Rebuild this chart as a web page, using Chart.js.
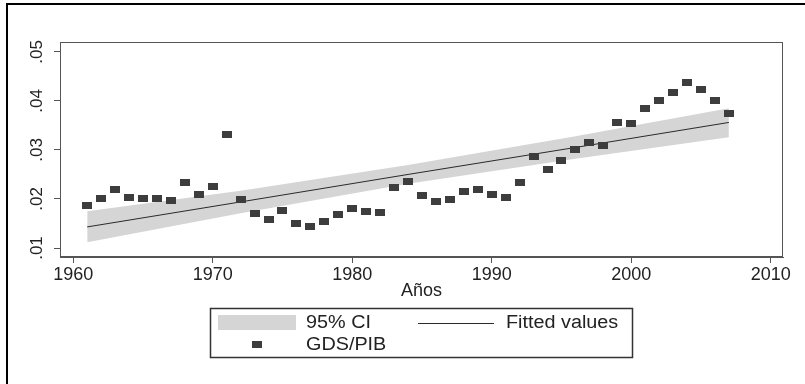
<!DOCTYPE html>
<html>
<head>
<meta charset="utf-8">
<script src="https://cdn.jsdelivr.net/npm/chart.js@4/dist/chart.umd.min.js"></script>
<style>
  html, body { margin: 0; padding: 0; background: #fff; }
  canvas { display: block; }
</style>
</head>
<body>
<canvas id="c" width="805" height="384"></canvas>
<script>
// ---- data ----
const years = [1961,1962,1963,1964,1965,1966,1967,1968,1969,1970,
               1971,1972,1973,1974,1975,1976,1977,1978,1979,1980,
               1981,1982,1983,1984,1985,1986,1987,1988,1989,1990,
               1991,1992,1993,1994,1995,1996,1997,1998,1999,2000,
               2001,2002,2003,2004,2005,2006,2007];
const gdsPib = [0.0186,0.0200,0.0220,0.0204,0.0200,0.0200,0.0196,0.0234,0.0209,0.0226,
                0.0332,0.0198,0.0171,0.0158,0.0176,0.0149,0.0143,0.0155,0.0168,0.0180,
                0.0174,0.0173,0.0223,0.0235,0.0207,0.0195,0.0198,0.0216,0.0219,0.0209,
                0.0202,0.0234,0.0287,0.0261,0.0279,0.0300,0.0315,0.0310,0.0356,0.0353,
                0.0385,0.0401,0.0417,0.0437,0.0424,0.0401,0.0374];
const fitYears = [1961, 1972, 1984, 1996, 2007];
const fitted   = [0.0143, 0.0194, 0.0250, 0.0305, 0.0356];
const ciUpper  = [0.0175, 0.0217, 0.0269, 0.0328, 0.0385];
const ciLower  = [0.0112, 0.0171, 0.0231, 0.0282, 0.0326];
const xTicks = [1960, 1970, 1980, 1990, 2000, 2010];
const yTicks = [0.01, 0.02, 0.03, 0.04, 0.05];
const yTickLabels = ['.01', '.02', '.03', '.04', '.05'];
const xTitle = 'Años';
const labels = { ci: '95% CI', fit: 'Fitted values', pts: 'GDS/PIB' };

// ---- styles ----
const FONT = "'Liberation Sans', Arial, sans-serif";
const AXIS = '#555555';
const BAND = '#d5d5d5';
const MARK = '#3d3d3d';

// marker image (Stata square, looks slightly wide in the reference)
const mk = document.createElement('canvas');
mk.width = 10; mk.height = 7;
(function(){ const g = mk.getContext('2d'); g.fillStyle = MARK; g.fillRect(0,0,10,7); })();

const pts = years.map((y,i)=>({x:y, y:gdsPib[i]}));
const fitPts = fitYears.map((y,i)=>({x:y, y:fitted[i]}));
const upPts = fitYears.map((y,i)=>({x:y, y:ciUpper[i]}));
const loPts = fitYears.map((y,i)=>({x:y, y:ciLower[i]}));

function wideText(ctx, txt, x, y, sx) {
  ctx.save();
  ctx.translate(x, y);
  ctx.scale(sx, 1);
  ctx.fillText(txt, 0, 0);
  ctx.restore();
}

const decor = {
  id: 'decor',
  beforeDraw(chart) {
    const ctx = chart.ctx;
    ctx.save();
    ctx.fillStyle = '#fff';
    ctx.fillRect(0, 0, chart.width, chart.height);
    ctx.restore();
  },
  afterDraw(chart) {
    const ctx = chart.ctx, a = chart.chartArea;
    ctx.save();
    // plot region box
    ctx.strokeStyle = AXIS; ctx.lineWidth = 1;
    ctx.strokeRect(Math.round(a.left)+0.5, Math.round(a.top)+0.5, Math.round(a.right-a.left)-1, Math.round(a.bottom-a.top)-1);
    // outer frame (left and top edges visible)
    ctx.strokeStyle = '#000'; ctx.lineWidth = 2;
    ctx.beginPath();
    ctx.moveTo(7, chart.height + 2); ctx.lineTo(7, 4); ctx.lineTo(chart.width + 2, 4);
    ctx.stroke();
    // legend
    const ds = chart.data.datasets;
    const lx = 210.5, ly = 308.5, lw = 422, lh = 49;
    ctx.strokeStyle = '#333'; ctx.lineWidth = 1.5;
    ctx.strokeRect(lx, ly, lw, lh);
    ctx.fillStyle = ds[2].backgroundColor;
    ctx.fillRect(218, 315, 78, 15);
    ctx.strokeStyle = ds[1].borderColor; ctx.lineWidth = 1;
    ctx.beginPath(); ctx.moveTo(418, 323.5); ctx.lineTo(494, 323.5); ctx.stroke();
    ctx.drawImage(mk, 252, 341);
    ctx.fillStyle = '#222';
    ctx.font = '18px ' + FONT;
    ctx.textBaseline = 'middle'; ctx.textAlign = 'left';
    wideText(ctx, ds[2].label, 306, 323, 1.1);
    wideText(ctx, ds[1].label, 506, 323, 1.1);
    wideText(ctx, ds[0].label, 306, 345, 1.1);
    ctx.restore();
  }
};

new Chart(document.getElementById('c'), {
  type: 'scatter',
  data: {
    datasets: [
      { label: labels.pts, data: pts, order: 0, showLine: false,
        pointStyle: mk, pointRadius: 5, pointHoverRadius: 5,
        backgroundColor: MARK, borderColor: MARK },
      { label: labels.fit, data: fitPts, order: 1, showLine: true,
        borderColor: '#2a2a2a', borderWidth: 1, pointRadius: 0, fill: false, tension: 0 },
      { label: labels.ci, data: upPts, order: 2, showLine: true,
        borderWidth: 0, borderColor: 'rgba(0,0,0,0)', backgroundColor: BAND,
        pointRadius: 0, fill: '+1', tension: 0 },
      { label: labels.ci + ' low', data: loPts, order: 3, showLine: true,
        borderWidth: 0, borderColor: 'rgba(0,0,0,0)', backgroundColor: BAND,
        pointRadius: 0, fill: false, tension: 0 }
    ]
  },
  options: {
    responsive: false,
    animation: false,
    devicePixelRatio: 1,
    layout: { padding: { left: 0, top: 42, right: 22, bottom: 82 } },
    plugins: { legend: { display: false }, tooltip: { enabled: false } },
    scales: {
      x: {
        type: 'linear', min: 1959.05, max: 2010.88,
        afterBuildTicks: s => { s.ticks = xTicks.map(v => ({ value: v })); },
        afterFit: s => { s.height = 45; },
        grid: { display: true, drawOnChartArea: false, drawTicks: true, tickLength: 6, color: AXIS, tickColor: AXIS },
        border: { display: true, color: AXIS, width: 1 },
        ticks: { color: '#222', font: { family: FONT, size: 18 }, padding: 1,
                 maxRotation: 0, minRotation: 0, autoSkip: false,
                 callback: v => String(v) },
        title: { display: true, text: xTitle, color: '#222', font: { family: FONT, size: 18 },
                 padding: { top: 0, bottom: 0 } }
      },
      y: {
        type: 'linear', min: 0.00817, max: 0.052,
        afterBuildTicks: s => { s.ticks = yTicks.map(v => ({ value: v })); },
        afterFit: s => { s.width = 60; },
        grid: { display: true, drawOnChartArea: false, drawTicks: true, tickLength: 6, color: AXIS, tickColor: AXIS },
        border: { display: true, color: AXIS, width: 1 },
        ticks: { color: '#222', font: { family: FONT, size: 17 }, padding: 5,
                 minRotation: 90, maxRotation: 90, crossAlign: 'center', autoSkip: false,
                 callback: (v, i) => yTickLabels[i] }
      }
    }
  },
  plugins: [decor]
});
</script>
</body>
</html>
